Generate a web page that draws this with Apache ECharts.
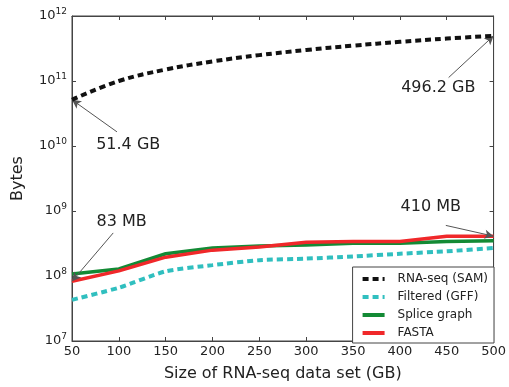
<!DOCTYPE html>
<html>
<head>
<meta charset="utf-8">
<script src="https://cdn.jsdelivr.net/npm/echarts@6/dist/echarts.min.js"></script>
<style>
  html, body { margin: 0; padding: 0; background: #fff; }
  #main { width: 509px; height: 387px; }
</style>
</head>
<body>
<div id="main"></div>
<script>
// data set size (GB)
var sizes = [50, 100, 150, 200, 250, 300, 350, 400, 450, 500]
// bytes
var samBytes = [5.14e10, 1.0e11, 1.5e11, 2.0e11, 2.5e11, 3.0e11, 3.5e11, 4.0e11, 4.5e11, 4.962e11]
var gffBytes = [4.3e7, 6.6e7, 1.18e8, 1.47e8, 1.75e8, 1.85e8, 2.0e8, 2.2e8, 2.4e8, 2.7e8]
var spliceBytes = [1.07e8, 1.28e8, 2.2e8, 2.7e8, 2.9e8, 3.0e8, 3.2e8, 3.2e8, 3.4e8, 3.5e8]
var fastaBytes = [8.3e7, 1.2e8, 1.95e8, 2.5e8, 2.8e8, 3.3e8, 3.4e8, 3.4e8, 4.1e8, 4.1e8]
var seriesNames = ['RNA-seq (SAM)', 'Filtered (GFF)', 'Splice graph', 'FASTA']

// annotations: [text, text pos, arrow tail, arrow head]
var notes = [
  ['51.4 GB', [110, 1.05e10], [98, 1.65e10], [50, 5.14e10]],
  ['496.2 GB', [441, 7.9e10], [452, 1.13e11], [500, 4.962e11]],
  ['83 MB', [103, 6.9e8], [94, 4.6e8], [50, 8.3e7]],
  ['410 MB', [433, 1.15e9], [449, 6.0e8], [500, 4.1e8]]
]

var FONT = 'DejaVu Sans'
var chart = echarts.init(document.getElementById('main'))

function pairs(ys) {
  return sizes.map(function (x, i) { return [x, ys[i]] })
}

var option = {
  backgroundColor: '#fff',
  animation: false,
  textStyle: { fontFamily: FONT },
  grid: { left: 72, top: 16, right: 14, bottom: 43, show: true, borderColor: '#444', borderWidth: 1 },
  legend: {
    orient: 'vertical',
    right: 15, bottom: 44,
    itemWidth: 22, itemHeight: 10, itemGap: 6,
    padding: [6, 6, 4, 8],
    backgroundColor: '#fff',
    borderColor: '#444', borderWidth: 1,
    itemStyle: { opacity: 0 },
    lineStyle: { width: 4 },
    textStyle: { fontFamily: FONT, fontSize: 12, color: '#222', padding: [0, 0, 0, 8] },
    data: seriesNames
  },
  xAxis: [{
    type: 'value', min: 50, max: 500, interval: 50,
    name: 'Size of RNA-seq data set (GB)', nameLocation: 'middle', nameGap: 25,
    nameTextStyle: { fontFamily: FONT, fontSize: 16, color: '#222' },
    axisLine: { lineStyle: { color: '#444' } },
    axisTick: { inside: true, length: 4, lineStyle: { color: '#444' } },
    axisLabel: { fontFamily: FONT, fontSize: 13, color: '#222', margin: 4 },
    splitLine: { show: false }
  }, {
    type: 'value', min: 50, max: 500, interval: 50, position: 'top',
    axisLine: { lineStyle: { color: '#444' } },
    axisTick: { inside: true, length: 4, lineStyle: { color: '#444' } },
    axisLabel: { show: false }, splitLine: { show: false }
  }],
  yAxis: [{
    type: 'log', logBase: 10, min: 1e7, max: 1e12,
    name: 'Bytes', nameLocation: 'middle', nameGap: 46,
    nameTextStyle: { fontFamily: FONT, fontSize: 16, color: '#222' },
    axisLine: { lineStyle: { color: '#444' } },
    axisTick: { inside: true, length: 4, lineStyle: { color: '#444' } },
    axisLabel: {
      margin: 5,
      formatter: function (v) {
        return '{b|10}{s|' + Math.round(Math.log10(v)) + '}'
      },
      rich: {
        b: { fontFamily: FONT, fontSize: 13, color: '#222' },
        s: { fontFamily: FONT, fontSize: 9, color: '#222', verticalAlign: 'top', padding: [0, 0, 8, 0] }
      }
    },
    splitLine: { show: false }
  }, {
    type: 'log', logBase: 10, min: 1e7, max: 1e12, position: 'right',
    axisLine: { lineStyle: { color: '#444' } },
    axisTick: { inside: true, length: 4, lineStyle: { color: '#444' } },
    axisLabel: { show: false }, splitLine: { show: false }
  }],
  series: [
    {
      name: seriesNames[0], type: 'line', data: pairs(samBytes), symbol: 'none', smooth: 0.4, z: 5,
      lineStyle: { color: '#111', width: 4, type: [6, 4] }, itemStyle: { color: '#111' }
    },
    {
      name: seriesNames[1], type: 'line', data: pairs(gffBytes), symbol: 'none', smooth: 0.2,
      lineStyle: { color: '#30bfbf', width: 4, type: [6, 4] }, itemStyle: { color: '#30bfbf' }
    },
    {
      name: seriesNames[2], type: 'line', data: pairs(spliceBytes), symbol: 'none',
      lineStyle: { color: '#138a35', width: 3.5 }, itemStyle: { color: '#138a35' }
    },
    {
      name: seriesNames[3], type: 'line', data: pairs(fastaBytes), symbol: 'none',
      lineStyle: { color: '#f0282a', width: 3.5 }, itemStyle: { color: '#f0282a' }
    },
    {
      // annotations
      type: 'line', data: [], silent: true,
      markLine: {
        silent: true, symbol: ['none', 'arrow'], symbolSize: [7, 9],
        lineStyle: { color: '#555', width: 1, type: 'solid' },
        label: { show: false },
        data: notes.map(function (n) { return [{ coord: n[2] }, { coord: n[3] }] })
      },
      markPoint: {
        silent: true, symbol: 'circle', symbolSize: 0,
        label: { show: true, position: 'inside', fontFamily: FONT, fontSize: 16, color: '#222' },
        data: notes.map(function (n) { return { coord: n[1], value: n[0], label: { formatter: n[0] } } })
      }
    }
  ]
}
chart.setOption(option)
</script>
</body>
</html>
